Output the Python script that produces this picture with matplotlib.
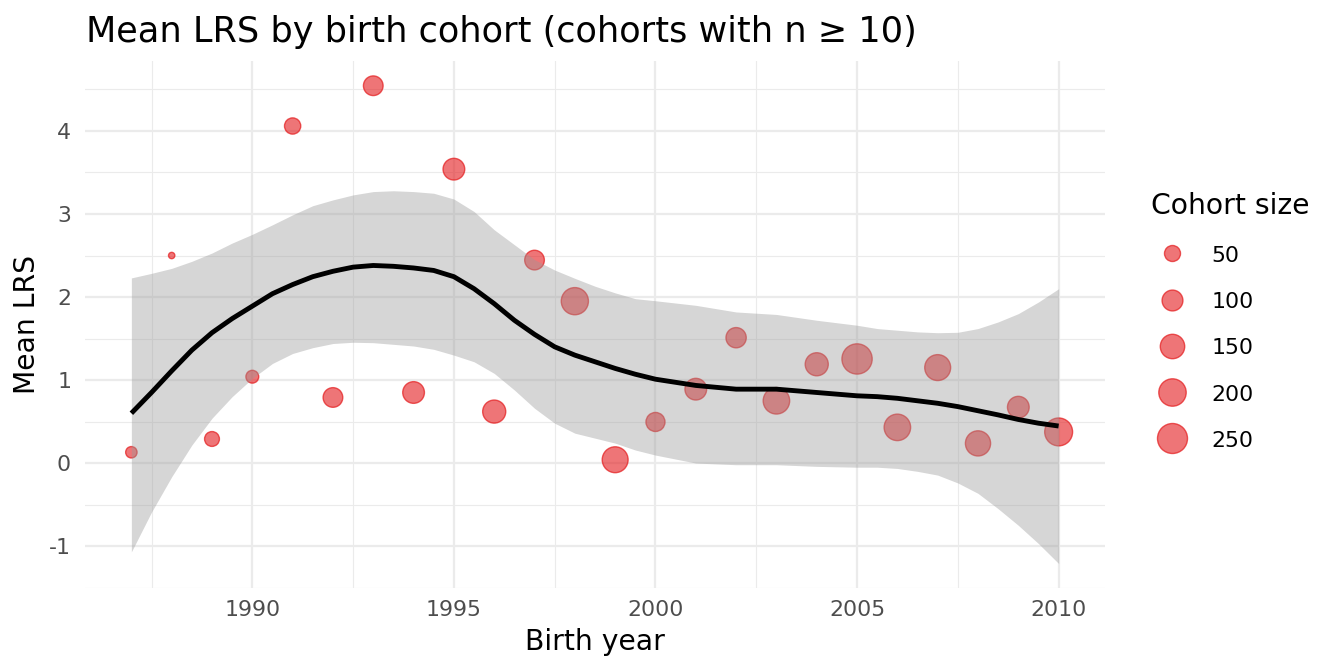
import numpy as np
import matplotlib
matplotlib.use("Agg")
import matplotlib.pyplot as plt
from matplotlib.lines import Line2D

plt.rcParams['font.family'] = ['DejaVu Sans']
plt.rcParams['axes.unicode_minus'] = False

# ---- data ----
years = [1987, 1988, 1989, 1990, 1991, 1992, 1993, 1994, 1995, 1996, 1997, 1998,
         1999, 2000, 2001, 2002, 2003, 2004, 2005, 2006, 2007, 2008, 2009, 2010]
mean_lrs = [0.13, 2.50, 0.29, 1.04, 4.06, 0.79, 4.545, 0.85, 3.54, 0.62, 2.445, 1.95,
            0.04, 0.495, 0.89, 1.51, 0.75, 1.19, 1.254, 0.43, 1.15, 0.237, 0.673, 0.375]
cohort_n = [21, 10, 41, 28, 52, 86, 86, 111, 111, 130, 86, 196,
            174, 79, 111, 93, 184, 130, 255, 184, 174, 162, 111, 209]

# loess smooth and its confidence band
smooth_x = [1987, 1987.5, 1988, 1988.5, 1989, 1989.5, 1990, 1990.5, 1991, 1991.5,
            1992, 1992.5, 1993, 1993.5, 1994, 1994.5, 1995, 1995.5, 1996, 1996.5,
            1997, 1997.5, 1998, 1998.5, 1999, 1999.5, 2000, 2001, 2002, 2003,
            2004, 2005, 2005.5, 2006, 2006.5, 2007, 2007.5, 2008, 2008.5, 2009,
            2009.5, 2010]
smooth_fit = [0.60, 0.85, 1.11, 1.36, 1.57, 1.74, 1.89, 2.04, 2.15, 2.245,
              2.31, 2.36, 2.38, 2.37, 2.35, 2.32, 2.245, 2.10, 1.92, 1.72,
              1.55, 1.40, 1.30, 1.22, 1.14, 1.07, 1.01, 0.935, 0.89, 0.89,
              0.85, 0.81, 0.80, 0.78, 0.75, 0.72, 0.68, 0.63, 0.58, 0.525,
              0.48, 0.446]
smooth_hi = [2.23, 2.285, 2.345, 2.43, 2.53, 2.65, 2.755, 2.87, 2.99, 3.10,
             3.17, 3.23, 3.27, 3.28, 3.27, 3.25, 3.18, 3.03, 2.81, 2.63,
             2.45, 2.325, 2.225, 2.13, 2.05, 1.98, 1.955, 1.90, 1.82, 1.79,
             1.72, 1.66, 1.62, 1.60, 1.58, 1.57, 1.575, 1.62, 1.70, 1.80,
             1.94, 2.10]
smooth_lo = [-1.07, -0.59, -0.165, 0.217, 0.54, 0.80, 1.02, 1.20, 1.32, 1.39,
             1.44, 1.455, 1.45, 1.43, 1.41, 1.37, 1.30, 1.22, 1.08, 0.88,
             0.66, 0.48, 0.36, 0.30, 0.24, 0.157, 0.096, 0.00, -0.02, -0.02,
             -0.04, -0.05, -0.05, -0.065, -0.10, -0.145, -0.24, -0.365, -0.55, -0.75,
             -0.97, -1.21]

legend_sizes = [50, 100, 150, 200, 250]
x_ticks = [1990, 1995, 2000, 2005, 2010]
y_ticks = [-1, 0, 1, 2, 3, 4]

# ---- styling ----
DPI = 100
PT = 72.0 / DPI
pt_color = (228/255, 26/255, 28/255)
n_min, n_max = min(cohort_n), max(cohort_n)


def diam_px(n):
    return 7.35 + 23.9 * np.sqrt(np.clip((np.asarray(n, float) - n_min) / (n_max - n_min), 0, 1))


fig = plt.figure(figsize=(13.44, 6.72), dpi=DPI)
ax = fig.add_axes([85/1344, 1 - 588/672, 1020/1344, 527/672])

d = diam_px(cohort_n)
ax.scatter(years, mean_lrs, s=((d - 1.0) * PT) ** 2, facecolor=(*pt_color, 0.6),
           edgecolor=(*pt_color, 0.7), linewidth=1.0, zorder=2)
ax.fill_between(smooth_x, smooth_lo, smooth_hi, color='#999999', alpha=0.4,
                linewidth=0, zorder=3)
ax.plot(smooth_x, smooth_fit, color='black', linewidth=3.5, solid_capstyle='butt',
        solid_joinstyle='round', zorder=4)

ax.set_xlim(1985.85, 2011.15)
ax.set_ylim(-1.505, 4.843)
ax.set_xticks(x_ticks)
ax.set_xticks([1987.5, 1992.5, 1997.5, 2002.5, 2007.5], minor=True)
ax.set_yticks(y_ticks)
ax.set_yticks([-1.5, -0.5, 0.5, 1.5, 2.5, 3.5, 4.5], minor=True)
ax.set_xticklabels([str(v) for v in x_ticks])
ax.set_yticklabels([str(v) for v in y_ticks])

for s in ax.spines.values():
    s.set_visible(False)
ax.grid(which='major', color='#EBEBEB', linewidth=1.6)
ax.grid(which='minor', color='#EBEBEB', linewidth=0.8)
ax.set_axisbelow(True)
ax.tick_params(which='both', length=0)
ax.tick_params(axis='x', labelsize=15.8, labelcolor='#4D4D4D', pad=9)
ax.tick_params(axis='y', labelsize=15.8, labelcolor='#4D4D4D', pad=10)

ax.set_xlabel('Birth year', fontsize=20.3, va='baseline')
ax.xaxis.set_label_coords(0.5, -(650 - 588) / 527)
ax.set_ylabel('Mean LRS', fontsize=20.3, va='center')
ax.yaxis.set_label_coords((27 - 85) / 1020, 0.5)

fig.text(86/1344, 1 - 41.7/672, 'Mean LRS by birth cohort (cohorts with n \u2265 10)',
         fontsize=25.3, ha='left', va='baseline')

handles = []
for v in legend_sizes:
    dd = float(diam_px(v))
    handles.append(Line2D([], [], linestyle='', marker='o', markersize=(dd - 1.0) * PT,
                          markerfacecolor=(*pt_color, 0.6), markeredgecolor=(*pt_color, 0.7),
                          markeredgewidth=1.0))
leg = ax.legend(handles, [str(v) for v in legend_sizes], title='Cohort size',
                loc='upper left', bbox_to_anchor=(1151/1344, 1 - 192/672),
                bbox_transform=fig.transFigure, frameon=False, fontsize=15.8,
                title_fontsize=20.3, alignment='left', borderpad=0, borderaxespad=0,
                handlelength=1.95, handletextpad=0.79, handleheight=1.0, labelspacing=1.13)

fig.savefig('out.png', dpi=DPI)
